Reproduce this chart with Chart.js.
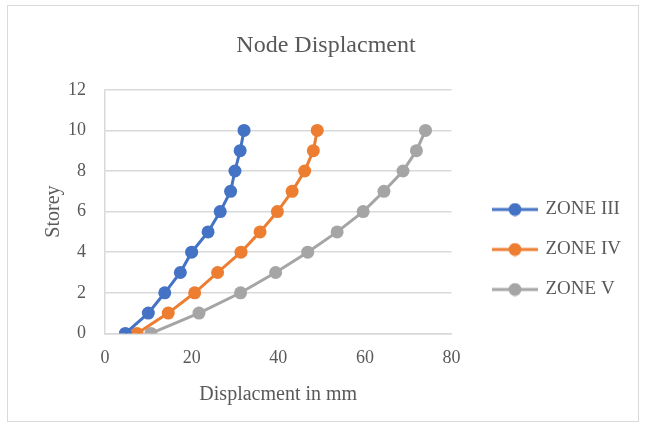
<!DOCTYPE html>
<html>
<head>
<meta charset="utf-8">
<script src="https://cdn.jsdelivr.net/npm/chart.js@4.4.1/dist/chart.umd.min.js"></script>
<style>
  html, body { margin: 0; padding: 0; background: #fff; }
  #frame {
    position: absolute; left: 7px; top: 5px;
    width: 632px; height: 417px;
    border: 1px solid #d9d9d9; box-sizing: border-box;
  }
  canvas { display: block; }
</style>
</head>
<body>
<div id="frame"><canvas id="chart" width="630" height="415"></canvas></div>
<script>
const storeys = [0, 1, 2, 3, 4, 5, 6, 7, 8, 9, 10];
const zone3 = [4.7, 10.0, 13.8, 17.4, 20.0, 23.8, 26.6, 29.0, 30.0, 31.2, 32.1];
const zone4 = [7.4, 14.6, 20.7, 26.0, 31.4, 35.8, 39.8, 43.2, 46.1, 48.1, 49.0];
const zone5 = [10.6, 21.7, 31.3, 39.4, 46.8, 53.6, 59.6, 64.4, 68.8, 71.9, 74.0];
const seriesNames = ['ZONE III', 'ZONE IV', 'ZONE V'];
const xTicks = [0, 20, 40, 60, 80];
const yTicks = [0, 2, 4, 6, 8, 10, 12];

const COLORS = ['#4472c4', '#ed7d31', '#a5a5a5'];
const SERIF = "'Liberation Serif', 'DejaVu Serif', serif";
const TEXT = '#595959';
const GRID = '#d9d9d9';

function toPoints(xs) {
  return xs.map((x, i) => ({ x, y: storeys[i] }));
}

// line-with-dot marker for the legend, the way Excel draws it
function legendMarker(color) {
  const c = document.createElement('canvas');
  c.width = 46; c.height = 14;
  const g = c.getContext('2d');
  g.strokeStyle = color;
  g.lineWidth = 3;
  g.beginPath(); g.moveTo(0, 7); g.lineTo(46, 7); g.stroke();
  g.fillStyle = color;
  g.beginPath(); g.arc(23, 7, 6.5, 0, Math.PI * 2); g.fill();
  return c;
}

// move legend + title to where Excel had them
const placeBoxes = {
  id: 'placeBoxes',
  afterLayout(chart) {
    const lg = chart.legend;
    if (lg) {
      const h = lg.height;
      lg.left = 465; lg.right = chart.width;
      lg.top = 173; lg.bottom = lg.top + h;
    }
    const t = chart.titleBlock;
    if (t) {
      t.left += 13; t.right += 13;
    }
  }
};

const datasets = [zone3, zone4, zone5].map((vals, i) => ({
  label: seriesNames[i],
  data: toPoints(vals),
  showLine: true,
  borderColor: COLORS[i],
  backgroundColor: COLORS[i],
  borderWidth: 3,
  pointRadius: 6.5,
  pointHoverRadius: 6.5,
  pointBorderWidth: 0
}));

new Chart(document.getElementById('chart').getContext('2d'), {
  type: 'scatter',
  data: { datasets },
  plugins: [placeBoxes],
  options: {
    responsive: false,
    animation: false,
    layout: { padding: { left: 28, right: 48, top: 0, bottom: 10 } },
    plugins: {
      title: {
        display: true,
        text: 'Node Displacment',
        color: TEXT,
        font: { family: SERIF, size: 24, weight: 'normal' },
        padding: { top: 25, bottom: 30 }
      },
      legend: {
        position: 'right',
        align: 'start',
        labels: {
          color: TEXT,
          font: { family: SERIF, size: 19 },
          usePointStyle: true,
          pointStyleWidth: 42,
          padding: 21,
          generateLabels: (chart) => chart.data.datasets.map((ds, i) => ({
            text: ds.label,
            fontColor: TEXT,
            pointStyle: legendMarker(COLORS[i]),
            datasetIndex: i,
            hidden: false,
            lineWidth: 0
          }))
        }
      },
      tooltip: { enabled: false }
    },
    scales: {
      x: {
        type: 'linear',
        min: 0,
        max: 80,
        afterBuildTicks: (axis) => { axis.ticks = xTicks.map(v => ({ value: v })); },
        grid: { display: false, drawTicks: false },
        border: { display: true, color: GRID, width: 1.5 },
        ticks: { color: TEXT, font: { family: SERIF, size: 18 }, padding: 14 },
        title: {
          display: true,
          text: 'Displacment in mm',
          color: TEXT,
          font: { family: SERIF, size: 20 },
          padding: { top: 0, bottom: 4 }
        }
      },
      y: {
        type: 'linear',
        min: 0,
        max: 12,
        afterBuildTicks: (axis) => { axis.ticks = yTicks.map(v => ({ value: v })); },
        afterFit: (axis) => { axis.width = 69; },
        grid: { color: GRID, lineWidth: 1.5, drawTicks: false },
        border: { display: true, color: GRID, width: 1.5 },
        ticks: { color: TEXT, font: { family: SERIF, size: 18 }, padding: 19 },
        title: {
          display: true,
          text: 'Storey',
          color: TEXT,
          font: { family: SERIF, size: 20 },
          padding: { top: 6, bottom: 0 }
        }
      }
    }
  }
});
</script>
</body>
</html>
